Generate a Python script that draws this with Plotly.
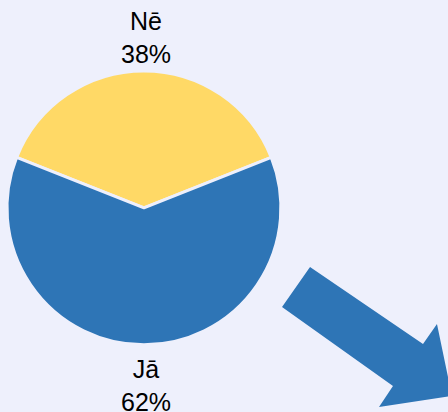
import plotly.graph_objects as go

labels = ["Nē", "Jā"]
values = [38, 62]
colors = ["#FFD966", "#2E75B6"]
bg = "#EEF0FC"

W, H = 448, 412
fig = go.Figure()
fig.add_trace(go.Pie(
    labels=labels, values=values, sort=False, direction="clockwise",
    rotation=-68.4,
    marker=dict(colors=colors, line=dict(color=bg, width=3)),
    textinfo="none",
    domain=dict(x=[0.0156, 0.627], y=[0.163, 0.828]),
    showlegend=False, hoverinfo="skip",
))

# slice labels centred above / below the pie
total = sum(values)
label_y = {"Nē": 1 - 38 / H, "Jā": 1 - 385 / H}
for lab, val in zip(labels, values):
    fig.add_annotation(
        x=146 / W, y=label_y[lab], xref="paper", yref="paper",
        text=f"{lab}<br>{round(100 * val / total)}%", showarrow=False,
        xanchor="center", yanchor="middle",
        font=dict(family="Liberation Sans, Arial, sans-serif", size=25, color="black"),
    )

# decorative arrow
pts = [(310, 267), (282, 307), (393, 386), (379, 407), (452, 396), (437, 324), (423, 344)]
path = "M " + " L ".join(f"{x/W:.4f},{1 - y/H:.4f}" for x, y in pts) + " Z"
fig.add_shape(type="path", path=path, xref="paper", yref="paper",
              fillcolor="#2E75B6", line=dict(width=0))

fig.update_layout(
    width=W, height=H, margin=dict(l=0, r=0, t=0, b=0),
    paper_bgcolor=bg, plot_bgcolor=bg,
)
fig.write_html(
    "out.html",
    config={"displayModeBar": False},
    post_script="document.body.style.margin='0';document.body.style.background='%s';" % bg,
)
